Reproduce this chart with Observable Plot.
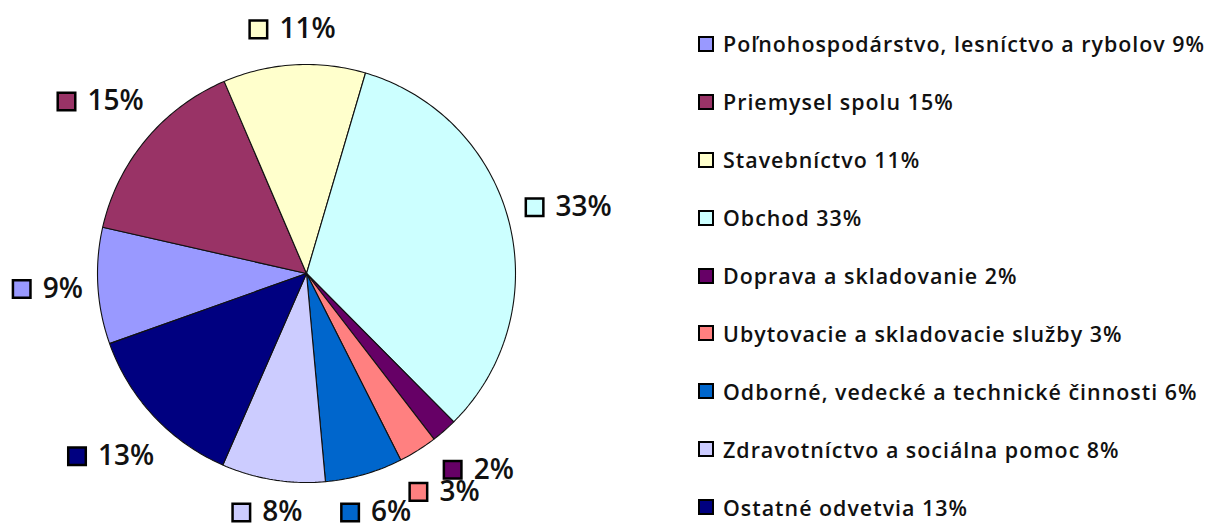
<!DOCTYPE html>
<html><head><meta charset="utf-8">
<script src="https://cdn.jsdelivr.net/npm/d3@7"></script>
<script src="https://cdn.jsdelivr.net/npm/@observablehq/plot@0.6"></script>
<style>
html,body{margin:0;padding:0;background:#fff;}
#wrap{position:relative;width:1214px;height:531px;overflow:hidden;}
#legend{position:absolute;left:698px;top:15px;font-family:"Open Sans",sans-serif;font-size:21.4px;font-weight:600;letter-spacing:1px;color:#111;}
#legend .row{height:57.9px;display:flex;align-items:center;white-space:nowrap;}
#legend .sw{width:12px;height:12px;border:2px solid #000;margin-right:9px;flex:none;}
</style></head><body><div id="wrap"></div>
<script>
const categories = ["Poľnohospodárstvo, lesníctvo a rybolov","Priemysel spolu","Stavebníctvo","Obchod","Doprava a skladovanie","Ubytovacie a skladovacie služby","Odborné, vedecké a technické činnosti","Zdravotníctvo a sociálna pomoc","Ostatné odvetvia"];
const shares = [9, 15, 11, 33, 2, 3, 6, 8, 13];
const colors = ["#9999FF","#993366","#FFFFCC","#CCFFFF","#660066","#FF8080","#0066CC","#CCCCFF","#000080"];
const startAngle = 250.4; // degrees clockwise from 12 o'clock

const total = d3.sum(shares);
const R = 209; // pixel radius of the pie
const CY = 273; // pixel centre row (used only to keep labels inside the frame)
const labelFont = "600 28px 'Open Sans'";
const ctx = document.createElement("canvas").getContext("2d");
ctx.font = labelFont;

const slicePts = [];
const labelData = [];
let acc = startAngle;
shares.forEach((v, i) => {
  const a0 = acc, a1 = acc + v / total * 360;
  acc = a1;
  slicePts.push({name: categories[i], color: colors[i], x: 0, y: 0});
  const n = Math.max(2, Math.ceil(a1 - a0) + 1);
  for (let k = 0; k <= n; k++) {
    const a = (a0 + (a1 - a0) * k / n) * Math.PI / 180;
    slicePts.push({name: categories[i], color: colors[i], x: Math.sin(a), y: -Math.cos(a)});
  }
  const mid = (a0 + a1) / 2 * Math.PI / 180;
  const text = shares[i] + "%";
  const w = 31 + ctx.measureText(text).width;
  const H = 38;
  const s = Math.sin(mid), c = Math.cos(mid);
  const dist = R + 14 + Math.abs(s) * w / 2 + Math.abs(c) * H / 2;
  let py = -c * dist;
  py = Math.min(py, 531 - 19 - CY);
  labelData.push({text, color: colors[i], lx: (s * dist - w / 2) / R, ly: py / R});
});

const chart = Plot.plot({
  width: 1214, height: 531, margin: 0,
  x: {domain: [-1, 1], range: [97, 515], axis: null},
  y: {domain: [-1, 1], range: [64, 482], axis: null},
  color: {type: "identity"},
  style: {background: "#fff"},
  marks: [
    Plot.line(slicePts, {x: "x", y: "y", z: "name", fill: "color", stroke: "#111", strokeWidth: 1.1, curve: "linear-closed", strokeLinejoin: "miter"}),
    Plot.dot(labelData, {x: "lx", y: "ly", dx: 10, symbol: "square", r: 9.9, fill: "color", stroke: "#000", strokeWidth: 2.5}),
    Plot.text(labelData, {x: "lx", y: "ly", dx: 31, text: "text", textAnchor: "start", fontSize: 28, fontWeight: 600, fontFamily: "Open Sans", fill: "#111"})
  ]
});
const wrap = document.getElementById("wrap");
wrap.appendChild(chart);

const legend = document.createElement("div");
legend.id = "legend";
categories.forEach((c, i) => {
  const row = document.createElement("div");
  row.className = "row";
  const sw = document.createElement("span");
  sw.className = "sw";
  sw.style.background = colors[i];
  const t = document.createElement("span");
  t.textContent = c + " " + shares[i] + "%";
  row.appendChild(sw); row.appendChild(t);
  legend.appendChild(row);
});
wrap.appendChild(legend);
</script></body></html>
